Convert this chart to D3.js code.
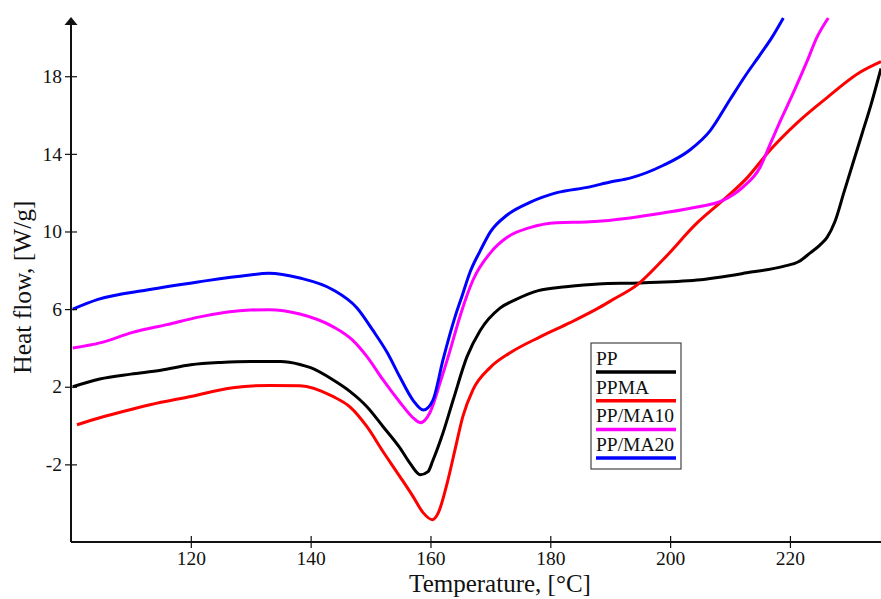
<!DOCTYPE html>
<html>
<head>
<meta charset="utf-8">
<script src="https://cdn.jsdelivr.net/npm/d3@7/dist/d3.min.js"></script>
<style>
  body { margin: 0; background: #fff; }
  svg text { font-family: "Liberation Serif", "DejaVu Serif", serif; fill: #111; }
</style>
</head>
<body>
<div id="chart"></div>
<script>
// Series names and colours (legend order)
const seriesNames = ['PP', 'PPMA', 'PP/MA10', 'PP/MA20'];
const seriesColors = ['#000000', '#ff0000', '#ff00ff', '#0000ff'];

// [temperature °C, heat flow W/g]
const PP = [[100.3,2.0],[104.8,2.4],[110,2.65],[115,2.85],[120,3.13],[125,3.25],[130,3.3],[135,3.3],[138.2,3.15],[140,2.98],
  [143.7,2.36],[146.6,1.75],[149.4,0.97],[152.1,-0.06],[154.9,-1.15],[156.6,-1.95],[158.3,-2.53],[159.6,-2.37],[160.4,-1.8],
  [162.1,-0.37],[163.8,1.33],[166.1,3.55],[168.3,4.9],[171.6,6.05],[174.3,6.5],[178,6.95],[182.6,7.15],[188,7.3],[195,7.35],
  [204.5,7.5],[212.8,7.87],[218.9,8.2],[221.5,8.45],[223.4,8.9],[225,9.3],[226.2,9.7],[227.5,10.5],[229,12.0],[230.5,13.5],
  [232,15.0],[233.5,16.5],[235.2,18.4]];
const PPMA = [[101,0.04],[104.8,0.4],[109,0.75],[113.2,1.07],[120,1.5],[127,1.95],[133.2,2.07],[138.2,2.05],[143.7,1.5],
  [146.6,0.95],[149.4,-0.06],[152.1,-1.35],[154.9,-2.63],[157.1,-3.66],[158.8,-4.5],[160.3,-4.85],[161.3,-4.5],[162.8,-2.95],
  [164.1,-1.24],[165.4,0.46],[167.1,1.85],[170,3.0],[173.3,3.75],[178.3,4.57],[183.3,5.3],[188.3,6.1],[190.5,6.5],[194.5,7.25],
  [198.8,8.54],[204.5,10.44],[208.8,11.6],[212.8,12.75],[216.7,14.2],[221.2,15.6],[226.2,16.9],[231.7,18.2],[235.2,18.75]];
const PPMA10 = [[100.3,4.0],[104.8,4.26],[110.3,4.8],[116,5.2],[121.5,5.6],[129.9,5.95],[133,5.97],[138.2,5.75],[143.7,5.1],
  [147,4.4],[149.4,3.55],[152.1,2.35],[154.9,1.2],[157.1,0.4],[158.3,0.15],[159.9,0.66],[161.6,2.2],[163.3,3.9],[165,5.7],
  [167.1,7.5],[170,8.9],[172.8,9.7],[176.6,10.2],[181.1,10.45],[186.6,10.5],[193.3,10.7],[198.8,10.95],[204.5,11.26],
  [208.8,11.6],[212.2,12.3],[215,13.3],[216.7,14.5],[218.4,15.7],[220.5,17.1],[222.9,18.8],[224.5,20.0],[226.4,21.0]];
const PPMA20 = [[100.3,6.0],[104.5,6.5],[112.9,7.0],[121.2,7.4],[129.5,7.75],[133,7.85],[138.2,7.6],[143.7,7.0],[147.7,6.07],
  [150.4,4.9],[152.8,3.75],[154.9,2.5],[157.1,1.3],[158.8,0.8],[160.4,1.3],[162.1,3.4],[164.1,5.6],[165.3,6.7],[166.6,7.9],
  [168.3,9.0],[170,9.98],[172.8,10.85],[176.6,11.5],[181.1,12.0],[186.6,12.3],[190,12.55],[193.3,12.75],[198.8,13.4],
  [203.3,14.2],[206.7,15.2],[210,16.8],[212.5,18.0],[215,19.1],[217,20.0],[218.9,21.0]];
const seriesData = [PP, PPMA, PPMA10, PPMA20];

// Tick labels
const xTicks = [120, 140, 160, 180, 200, 220];
const yTicks = [-2, 2, 6, 10, 14, 18];

const width = 881, height = 599;
const margin = { left: 71, right: 0, top: 18, bottom: 57 };

const svg = d3.select('#chart').append('svg')
  .attr('width', width)
  .attr('height', height);

const x = d3.scaleLinear().domain([100, 235.2]).range([margin.left, width - margin.right]);
const y = d3.scaleLinear().domain([-6, 21]).range([height - margin.bottom, margin.top]);

// Curves
const line = d3.line()
  .x(d => x(d[0]))
  .y(d => y(d[1]))
  .curve(d3.curveMonotoneX);

svg.append('g')
  .selectAll('path')
  .data(seriesData)
  .join('path')
  .attr('d', line)
  .attr('fill', 'none')
  .attr('stroke', (d, i) => seriesColors[i])
  .attr('stroke-width', 3)
  .attr('stroke-linejoin', 'round');

// X axis
const xAxis = svg.append('g')
  .attr('transform', `translate(0,${y(-6)})`)
  .call(d3.axisBottom(x).tickValues(xTicks).tickSize(6).tickPadding(3).tickFormat(d => String(d)));
xAxis.select('.domain').remove();
xAxis.selectAll('.tick line').attr('y1', -6).attr('y2', 6).attr('stroke', '#111').attr('stroke-width', 1.2);
xAxis.selectAll('.tick text').attr('font-size', 19.5).attr('fill', '#111');
svg.append('line')
  .attr('x1', x(100)).attr('x2', width)
  .attr('y1', y(-6)).attr('y2', y(-6))
  .attr('stroke', '#111').attr('stroke-width', 2);

// Y axis
const yAxis = svg.append('g')
  .attr('transform', `translate(${x(100)},0)`)
  .call(d3.axisLeft(y).tickValues(yTicks).tickSize(6).tickPadding(3).tickFormat(d => String(d)));
yAxis.select('.domain').remove();
yAxis.selectAll('.tick line').attr('x1', -6).attr('x2', 6).attr('stroke', '#111').attr('stroke-width', 1.2);
yAxis.selectAll('.tick text').attr('font-size', 19.5).attr('fill', '#111');
svg.append('line')
  .attr('x1', x(100)).attr('x2', x(100))
  .attr('y1', y(-6)).attr('y2', margin.top + 5)
  .attr('stroke', '#111').attr('stroke-width', 2);
// arrow head on the y axis
svg.append('path')
  .attr('d', `M${x(100)},${margin.top - 1} L${x(100) - 6.5},${margin.top + 7} L${x(100) + 6.5},${margin.top + 7} Z`)
  .attr('fill', '#111');

// Axis titles
svg.append('text')
  .attr('x', 500).attr('y', 592)
  .attr('text-anchor', 'middle')
  .attr('font-size', 25)
  .text('Temperature, [°C]');

svg.append('text')
  .attr('transform', `translate(31,${y(6) - 22}) rotate(-90)`)
  .attr('text-anchor', 'middle')
  .attr('font-size', 25.5)
  .text('Heat flow, [W/g]');

// Legend
const legend = svg.append('g').attr('transform', 'translate(591,343)');
legend.append('rect')
  .attr('width', 90).attr('height', 126)
  .attr('fill', '#fff')
  .attr('stroke', '#444').attr('stroke-width', 1.2);
const item = legend.selectAll('.item')
  .data(seriesNames)
  .join('g')
  .attr('class', 'item')
  .attr('transform', (d, i) => `translate(0,${i * 28.7})`);
item.append('text')
  .attr('x', 5).attr('y', 22)
  .attr('font-size', 19.5)
  .text(d => d);
item.append('line')
  .attr('x1', 5).attr('x2', 85)
  .attr('y1', 29).attr('y2', 29)
  .attr('stroke', (d, i) => seriesColors[i])
  .attr('stroke-width', 3.5);
</script>
</body>
</html>
